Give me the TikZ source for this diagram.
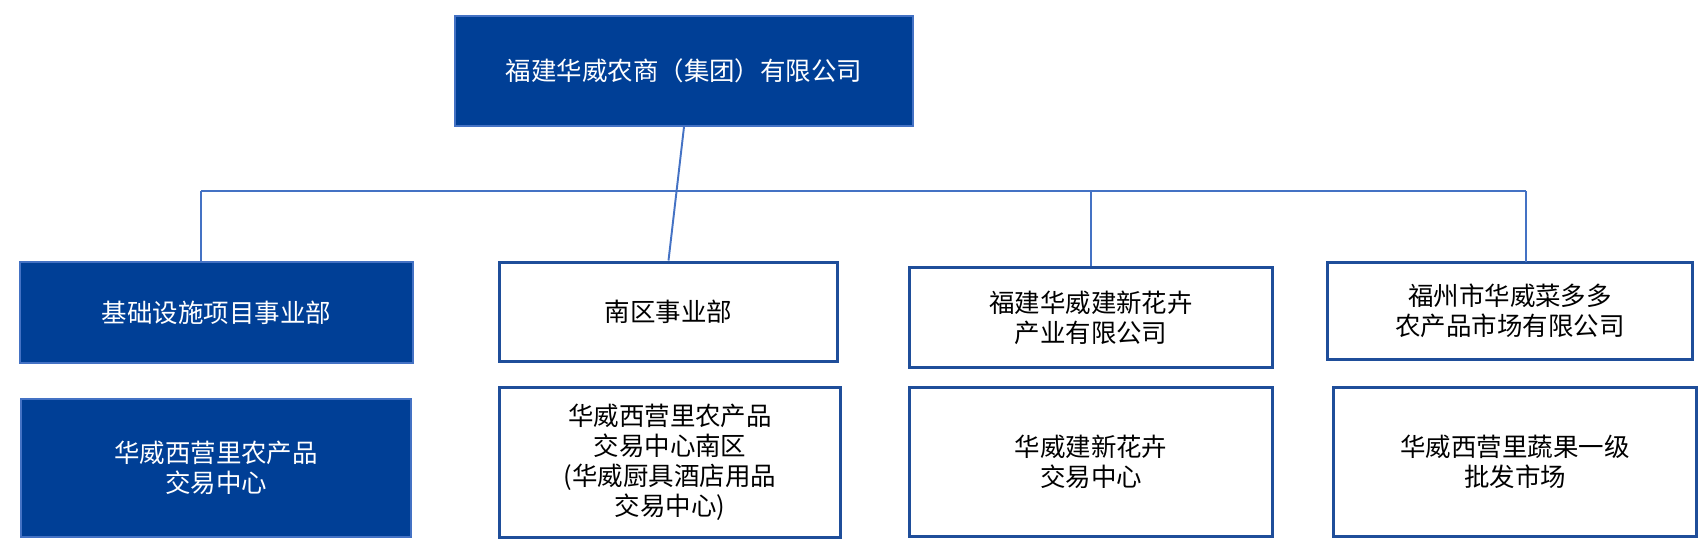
\documentclass[tikz,border=0pt]{standalone}
\usepackage{fontspec}
\setmainfont{Noto Sans CJK SC}
\usepackage{tikz}
\usetikzlibrary{positioning}

\definecolor{hwblue}{HTML}{003F96}
\definecolor{hwedge}{HTML}{1F4E9A}
\definecolor{hwline}{HTML}{4472C4}

\tikzset{
  unit/.style={rectangle, inner sep=0pt, align=center, font=\fontsize{14.5pt}{17pt}\selectfont},
  solid unit/.style={unit, fill=hwblue, draw=hwline, line width=1pt, text=white},
  open unit/.style={unit, fill=white, draw=hwedge, line width=1.7pt, text=black},
  link/.style={draw=hwline, line width=1.1pt}
}

\begin{document}
\begin{tikzpicture}[x=0.02cm, y=-0.02cm]
\useasboundingbox (0,0) rectangle (1706,550);

\node[solid unit, minimum width=9.16cm, minimum height=2.2cm] at (684,71) (group) {福建华威农商（集团）有限公司} ;

\node[solid unit, minimum width=7.86cm, minimum height=2.02cm] at (216.5,312.5) (infra) {基础设施项目事业部} ;
\node[open unit, minimum width=6.78cm, minimum height=2.0cm] at (668.5,312) (south) {南区事业部} ;
\node[open unit, minimum width=7.28cm, minimum height=2.02cm] at (1091,317.5) (flower) {福建华威建新花卉\\产业有限公司} ;
\node[open unit, minimum width=7.32cm, minimum height=1.94cm] at (1510,311) (veg) {福州市华威菜多多\\农产品市场有限公司} ;

\node[solid unit, minimum width=7.8cm, minimum height=2.76cm] at (216,468) (infrac) {华威西营里农产品\\交易中心} ;
\node[open unit, minimum width=6.84cm, minimum height=3.02cm] at (670,462.5) (southc) {华威西营里农产品\\交易中心南区\\(华威厨具酒店用品\\交易中心)} ;
\node[open unit, minimum width=7.28cm, minimum height=3.0cm] at (1091,462) (flowerc) {华威建新花卉\\交易中心} ;
\node[open unit, minimum width=7.28cm, minimum height=3.0cm] at (1515,462) (vegc) {华威西营里蔬果一级\\批发市场} ;

\coordinate (busl) at (201,191) ;
\coordinate (busr) at (1526,191) ;
\coordinate (vegin) at (1526,262) ;

\draw[link] (busl) -- (busr) ;
\draw[link] (group.south) -- (south.north) ;
\draw[link] (busl) -- (busl |- infra.north) ;
\draw[link] (flower.north) -- (flower.north |- busl) ;
\draw[link] (busr) -- (vegin) ;
\end{tikzpicture}
\end{document}
